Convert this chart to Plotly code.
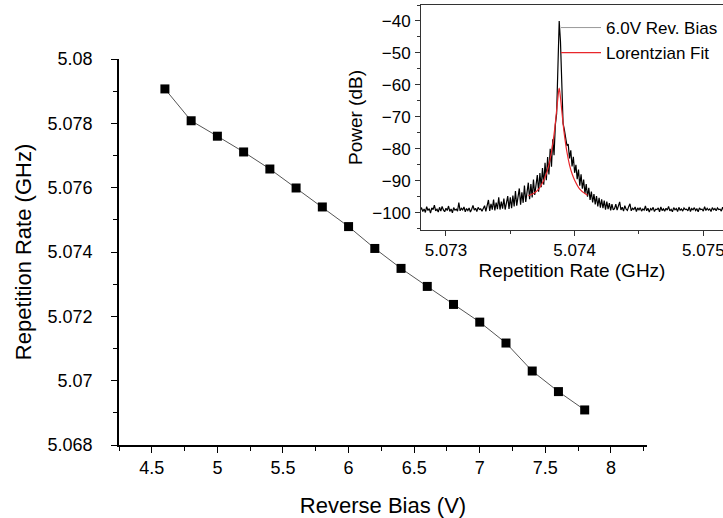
import numpy as np
import plotly.graph_objects as go

# ---- main chart data ----
BIAS_V = [4.6, 4.8, 5.0, 5.2, 5.4, 5.6, 5.8, 6.0, 6.2, 6.4, 6.6, 6.8, 7.0, 7.2, 7.4, 7.6, 7.8]
REP_RATE_GHZ = [5.07907, 5.07808, 5.07760, 5.07711, 5.07658, 5.07599, 5.07540, 5.07479,
                5.07411, 5.07349, 5.07293, 5.07237, 5.07182, 5.07117, 5.07030, 5.06966, 5.06909]

# ---- inset: spectrum (6.0 V reverse bias) ----
SPEC_START_GHZ = 5.0728
SPEC_STEP_GHZ = 0.00001
SPEC_DB = [
    -99.2, -98.4, -99.6, -98.8, -99.9, -98.1, -99.3, -98.7, -100.1, -98.5,
    -99.0, -97.6, -99.4, -98.9, -99.8, -98.3, -99.5, -98.0, -99.1, -99.7,
    -98.6, -99.3, -97.9, -99.6, -98.8, -100.0, -98.4, -99.2, -98.9, -99.5,
    -96.8, -99.4, -98.6, -99.1, -98.2, -99.7, -98.7, -99.3, -98.5, -99.8,
    -98.9, -97.7, -99.2, -98.6, -99.6, -98.3, -99.0, -98.8, -99.5, -98.4,
    -97.8, -99.6, -97.1, -96.0, -99.4, -97.2, -99.0, -95.9, -99.3, -96.8,
    -98.9, -95.2, -99.0, -96.5, -98.7, -95.6, -99.0, -96.2, -94.8, -98.8,
    -95.2, -98.6, -94.6, -98.0, -93.2, -97.8, -94.5, -92.4, -97.5, -93.6,
    -96.9, -91.5, -96.6, -93.0, -90.6,
    -95.8, -91.0, -95.2, -89.6, -94.4, -90.0, -88.2, -93.4, -87.6, -92.0,
    -86.0, -91.2, -84.4, -89.8, -82.6, -88.0, -80.0, -85.6,
    -77.0, -82.0, -72.5, -69.0, -55.0,
    -40.0,
    -46.5, -62.0, -72.0, -74.0,
    -76.0, -79.0, -78.5, -83.0, -80.5, -85.5, -82.5, -87.5,
    -85.0, -89.5, -86.5, -91.5, -88.0, -92.5, -89.6, -94.0, -91.0, -95.0, -92.2, -96.0, -93.4, -96.8, -94.2,
    -97.4, -94.8, -98.0, -95.3, -98.4, -95.8, -98.6, -96.2, -99.0, -96.5, -98.9, -97.0, -99.3, -97.3, -99.1,
    -98.7, -97.3, -99.2, -98.0, -96.6, -99.1, -98.3, -99.5, -97.8, -98.9,
    -99.3, -98.1, -97.2, -99.4, -98.6, -99.0, -98.2, -99.6, -98.5, -99.1,
    -98.4, -99.5, -98.8, -99.2, -97.9, -99.4, -98.6, -99.8, -98.7, -99.1,
    -98.3, -99.6, -98.9, -99.0, -98.5, -99.7, -98.2, -99.3, -98.8, -99.5,
    -98.6, -99.2, -98.0, -99.4, -98.9, -99.7, -98.4, -99.1, -98.7, -99.6,
    -98.3, -99.2, -98.8, -99.5, -98.5, -99.0, -98.9, -99.4, -98.2, -99.6,
    -98.7, -99.1, -98.4, -99.3, -98.8, -99.7, -98.5, -99.0, -98.9, -99.5,
    -98.1, -99.3, -98.6, -99.2, -98.8, -99.6, -98.4, -99.1, -98.7, -99.4,
    -98.5, -99.0, -98.9, -99.5, -98.3, -99.2,
]

# ---- inset: Lorentzian fit ----
FIT_FREQ_GHZ = [5.07364, 5.07368, 5.07372, 5.07376, 5.07378, 5.07380, 5.07382, 5.07384,
                5.07385, 5.07386, 5.07387, 5.07388, 5.07389, 5.07390, 5.07391, 5.07392,
                5.07394, 5.07396, 5.07398, 5.07400, 5.07404, 5.07408, 5.07410]
FIT_DB = [-94.7, -94.0, -92.6, -89.8, -87.8, -85.0, -81.0, -75.5,
          -72.0, -68.0, -64.0, -61.0, -64.0, -68.0, -72.0, -75.5,
          -81.0, -85.0, -87.8, -89.8, -92.6, -94.0, -94.5]

spec_freq = SPEC_START_GHZ + SPEC_STEP_GHZ * np.arange(len(SPEC_DB))

W, H = 723, 518
FONT = "Arial, Liberation Sans, sans-serif"
RED = "#e8262b"

fig = go.Figure()

fig.add_trace(go.Scatter(
    x=BIAS_V, y=REP_RATE_GHZ, mode="lines+markers",
    line=dict(color="#555555", width=1),
    marker=dict(symbol="square", size=9, color="black"),
    showlegend=False, xaxis="x", yaxis="y",
))

fig.add_trace(go.Scatter(
    x=spec_freq, y=SPEC_DB, mode="lines",
    line=dict(color="black", width=1.2),
    showlegend=False, legendgroup="spec",
    xaxis="x2", yaxis="y2",
))
# legend entry for the spectrum (thin grey sample as in the original key)
fig.add_trace(go.Scatter(
    x=[None], y=[None], mode="lines", name="6.0V Rev. Bias",
    line=dict(color="#9a9a9a", width=1), legendgroup="spec",
    xaxis="x2", yaxis="y2",
))
fig.add_trace(go.Scatter(
    x=FIT_FREQ_GHZ, y=FIT_DB, mode="lines", name="Lorentzian Fit",
    line=dict(color=RED, width=1.2, shape="spline"),
    xaxis="x2", yaxis="y2",
))

def px_x(p):
    return p / W

def px_y(p):
    return 1 - p / H

fig.update_layout(
    width=W, height=H,
    margin=dict(l=0, r=0, t=0, b=0, autoexpand=False),
    paper_bgcolor="white", plot_bgcolor="white",
    font=dict(family=FONT, color="black"),
    xaxis=dict(
        domain=[px_x(119), px_x(647)], range=[4.25, 8.275], automargin=False,
        tickmode="linear", tick0=4.5, dtick=0.5,
        ticks="outside", ticklen=6, tickwidth=1.3, tickcolor="black",
        minor=dict(ticks="outside", ticklen=4, dtick=0.25, tick0=4.25, tickcolor="black", tickwidth=1.2),
        showline=True, linecolor="black", linewidth=1.6, showgrid=False, zeroline=False,
        tickfont=dict(size=18), ticklabelstandoff=0,
        title=dict(text="Reverse Bias (V)", font=dict(size=22), standoff=20),
        anchor="y",
    ),
    yaxis=dict(
        domain=[px_y(445), px_y(59)], range=[5.068, 5.08], automargin=False,
        tickmode="linear", tick0=5.068, dtick=0.002,
        ticks="outside", ticklen=6, tickwidth=1.3, tickcolor="black",
        minor=dict(ticks="outside", ticklen=4, dtick=0.001, tick0=5.068, tickcolor="black", tickwidth=1.2),
        showline=True, linecolor="black", linewidth=1.6, showgrid=False, zeroline=False,
        tickfont=dict(size=18), ticklabelstandoff=15,
        title=dict(text="Repetition Rate (GHz)", font=dict(size=22), standoff=10),
        anchor="x",
    ),
    xaxis2=dict(
        domain=[px_x(421), 1.0], range=[5.072806, 5.075153], automargin=False,
        tickmode="linear", tick0=5.073, dtick=0.001,
        ticks="outside", ticklen=5, tickwidth=1, tickcolor="#333333",
        minor=dict(ticks="outside", ticklen=3, dtick=0.0005, tick0=5.0725, tickcolor="#333333", tickwidth=1),
        showline=True, linecolor="#333333", linewidth=1, mirror=True,
        showgrid=False, zeroline=False, ticklabeloverflow="allow",
        tickfont=dict(size=17), ticklabelstandoff=0,
        title=dict(text="Repetition Rate (GHz)", font=dict(size=19), standoff=0),
        anchor="y2",
    ),
    yaxis2=dict(
        domain=[px_y(230), px_y(5)], range=[-105.4, -35], automargin=False,
        tickmode="linear", tick0=-100, dtick=10,
        ticks="outside", ticklen=5, tickwidth=1, tickcolor="#333333",
        minor=dict(ticks="outside", ticklen=3, dtick=5, tick0=-105, tickcolor="#333333", tickwidth=1),
        showline=True, linecolor="#333333", linewidth=1, mirror=False,
        showgrid=False, zeroline=False,
        tickfont=dict(size=17), ticklabelstandoff=1,
        title=dict(text="Power (dB)", font=dict(size=19), standoff=4),
        anchor="x2",
    ),
    legend=dict(
        x=px_x(556), y=px_y(10), xanchor="left", yanchor="top",
        bgcolor="rgba(0,0,0,0)", borderwidth=0,
        font=dict(size=17), tracegroupgap=0, itemwidth=40,
    ),
)

fig.write_html(
    "out.html",
    config={"displayModeBar": False},
    post_script="document.body.style.margin='0';document.body.style.overflow='hidden';",
)
